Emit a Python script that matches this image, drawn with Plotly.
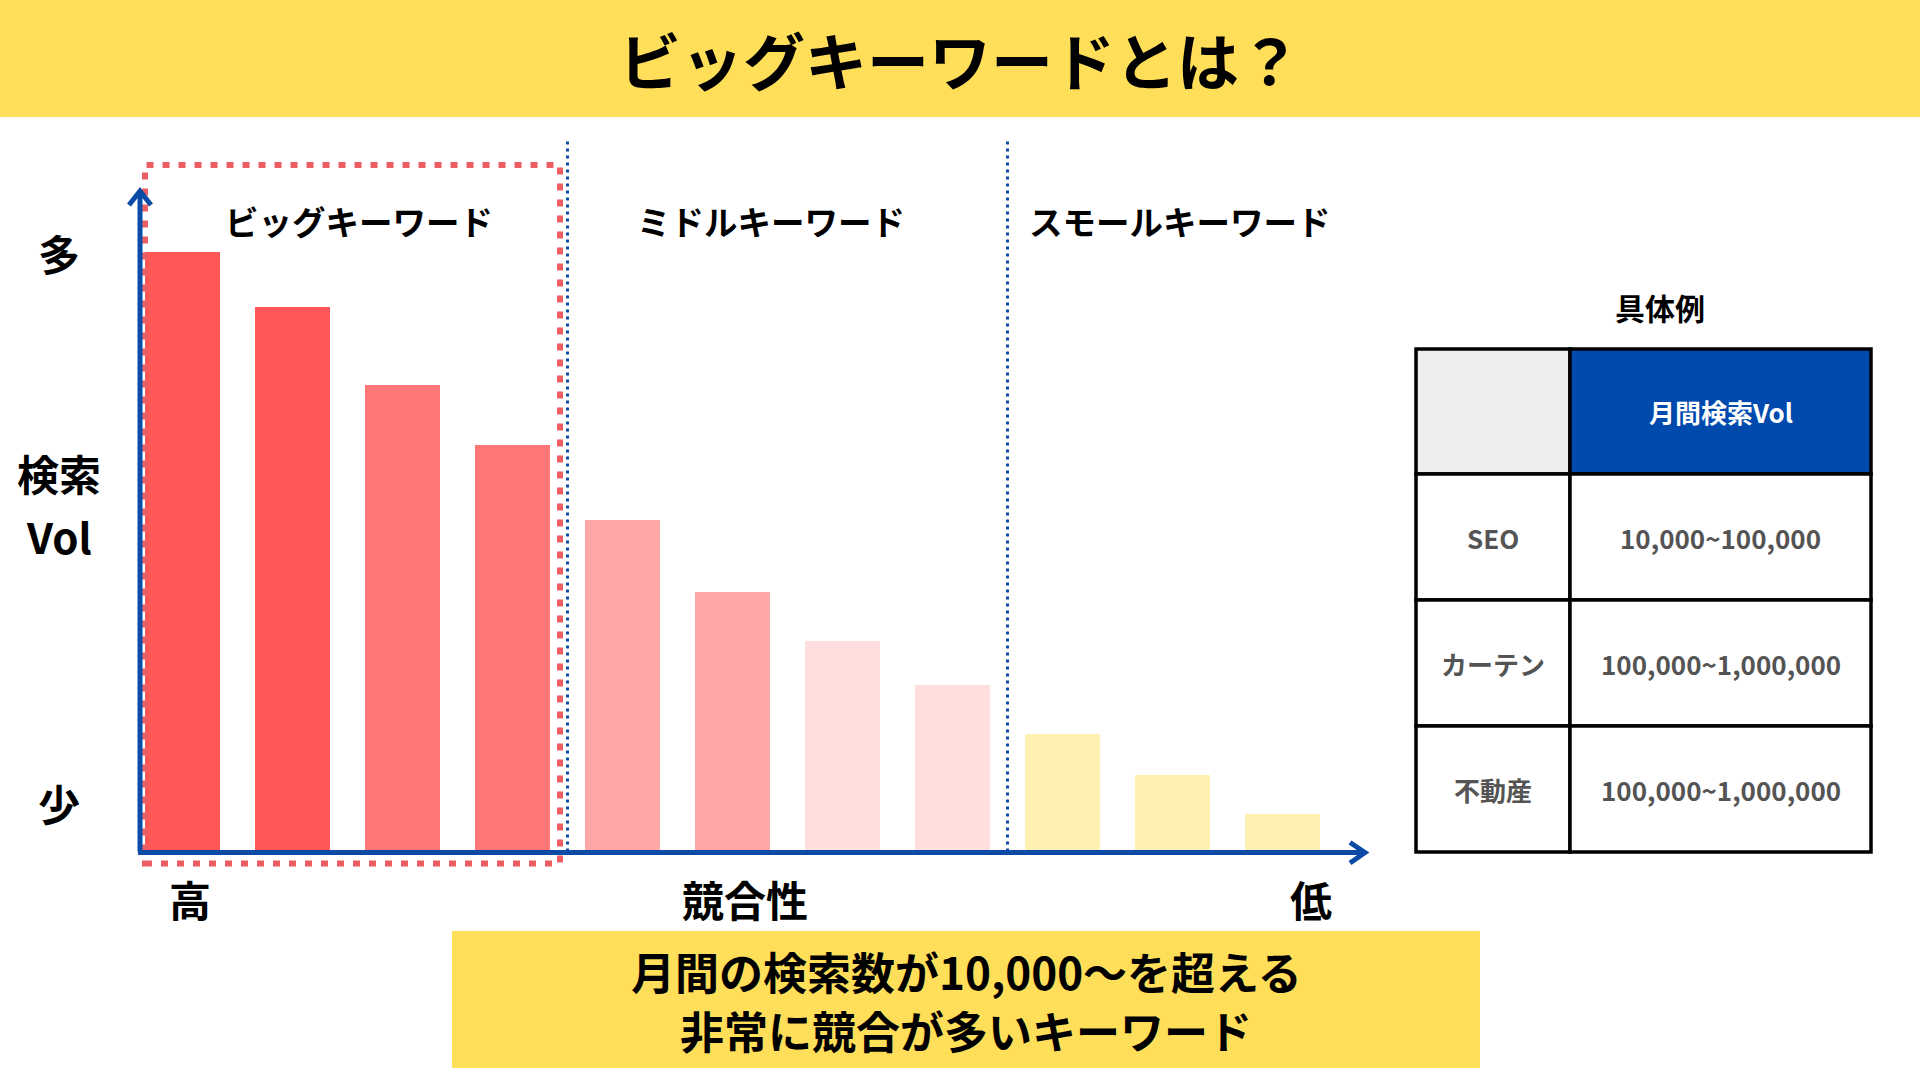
import plotly.graph_objects as go

W, H = 1920, 1080

# ---------------- data ----------------
search_volume = [600, 545, 467, 407, 332, 260, 211, 167, 118, 77, 38]
group_labels = ["ビッグキーワード", "ミドルキーワード", "スモールキーワード"]
group_sizes = [4, 4, 3]
y_labels_top = "多"
y_labels_mid = ["検索", "Vol"]
y_labels_bottom = "少"
x_labels = ["高", "競合性", "低"]
title_text = "ビッグキーワードとは？"
caption_lines = ["月間の検索数が10,000〜を超える", "非常に競合が多いキーワード"]
table_title = "具体例"
table_header = ["", "月間検索Vol"]
table_keywords = ["SEO", "カーテン", "不動産"]
table_volumes = ["10,000~100,000", "100,000~1,000,000", "100,000~1,000,000"]

# ---------------- styles ----------------
bar_colors = ["#FF5757", "#FF5757", "#FF7676", "#FF7676",
              "#FFA6A6", "#FFA6A6", "#FFDEDE", "#FFDEDE",
              "#FFF0B3", "#FFF0B3", "#FFF0B3"]
YELLOW = "#FFDE59"
BLUE = "#004AAD"
AXIS_BLUE = "#0B4AA5"
RED_DASH = "#EB5E63"
GRAY_TXT = "#545454"
FONT = "Noto Sans CJK JP"

# layout geometry (pixels)
AX_LEFT, AX_RIGHT = 140, 1366
AX_BOTTOM, AX_TOP = 851.5, 150
BAR_PITCH, FIRST_CENTER = 110, 182.5
GROUP_LABEL_X = [359, 771, 1180]


def px(x):
    return x / W


def py(y):
    return 1 - y / H


fig = go.Figure()
fig.add_trace(go.Bar(
    x=list(range(len(search_volume))),
    y=search_volume,
    marker=dict(color=bar_colors, line=dict(width=0)),
    width=0.68,
    hoverinfo="skip",
    showlegend=False,
))

shapes = []
annotations = []


def text(x, y, s, size, color="#000000", weight=700):
    annotations.append(dict(
        x=px(x), y=py(y), xref="paper", yref="paper", text=s, showarrow=False,
        xanchor="center", yanchor="middle",
        font=dict(family=FONT, size=size, color=color, weight=weight),
    ))


# title band
shapes.append(dict(type="rect", xref="paper", yref="paper", x0=0, x1=1,
                   y0=py(117), y1=1, fillcolor=YELLOW, line=dict(width=0), layer="below"))
text(960, 59, title_text, 62)

# group separators (blue dotted)
sep_index = 0
for size in group_sizes[:-1]:
    sep_index += size
    xs = FIRST_CENTER + (sep_index - 0.5) * BAR_PITCH
    shapes.append(dict(type="line", xref="paper", yref="paper",
                       x0=px(xs), x1=px(xs), y0=py(AX_BOTTOM), y1=py(140),
                       line=dict(color=AXIS_BLUE, width=3, dash="3px,4px")))

# red dashed highlight box
shapes.append(dict(type="rect", xref="paper", yref="paper",
                   x0=px(145), x1=px(560), y0=py(863.5), y1=py(165),
                   line=dict(color=RED_DASH, width=6, dash="7px,9px"),
                   fillcolor="rgba(0,0,0,0)"))

# axes
shapes.append(dict(type="line", xref="paper", yref="paper",
                   x0=px(AX_LEFT), x1=px(AX_LEFT), y0=py(AX_BOTTOM), y1=py(192),
                   line=dict(color=AXIS_BLUE, width=5)))
shapes.append(dict(type="line", xref="paper", yref="paper",
                   x0=px(AX_LEFT - 2), x1=px(AX_RIGHT - 1), y0=py(AX_BOTTOM + 1), y1=py(AX_BOTTOM + 1),
                   line=dict(color=AXIS_BLUE, width=5)))
# arrow heads
shapes.append(dict(type="path", xref="paper", yref="paper",
                   path=f"M {px(AX_LEFT-11)} {py(205)} L {px(AX_LEFT)} {py(191)} L {px(AX_LEFT+11)} {py(205)}",
                   line=dict(color=AXIS_BLUE, width=5)))
shapes.append(dict(type="path", xref="paper", yref="paper",
                   path=f"M {px(1350)} {py(842.5)} L {px(1365)} {py(852.5)} L {px(1350)} {py(863)}",
                   line=dict(color=AXIS_BLUE, width=5)))

# group labels
for lbl, cx in zip(group_labels, GROUP_LABEL_X):
    text(cx, 220, lbl, 33.5)

# y labels
text(59, 252, y_labels_top, 42)
text(59, 473, y_labels_mid[0], 42)
text(59, 535, y_labels_mid[1], 42)
text(59, 802, y_labels_bottom, 42)

# x labels
text(190, 898, x_labels[0], 42)
text(745, 898, x_labels[1], 42)
text(1311, 898, x_labels[2], 42)

# caption box
shapes.append(dict(type="rect", xref="paper", yref="paper",
                   x0=px(452), x1=px(1480), y0=py(1068), y1=py(931),
                   fillcolor=YELLOW, line=dict(width=0), layer="below"))
text(966, 971, caption_lines[0], 44)
text(966, 1030, caption_lines[1], 44)

# table
text(1660, 307, table_title, 30)
col_edges = [1416, 1570, 1871]
row_edges = [349, 474, 600, 726, 852]
rows = [table_header] + [[k, v] for k, v in zip(table_keywords, table_volumes)]
for r, row in enumerate(rows):
    for c, val in enumerate(row):
        if r == 0:
            fill = "#EEEEEE" if c == 0 else BLUE
            color = "#FFFFFF"
        else:
            fill = "#FFFFFF"
            color = GRAY_TXT
        shapes.append(dict(type="rect", xref="paper", yref="paper",
                           x0=px(col_edges[c]), x1=px(col_edges[c + 1]),
                           y0=py(row_edges[r + 1]), y1=py(row_edges[r]),
                           fillcolor=fill, line=dict(color="#000000", width=3.5),
                           layer="below"))
        if val:
            text((col_edges[c] + col_edges[c + 1]) / 2,
                 (row_edges[r] + row_edges[r + 1]) / 2, val, 26, color)

fig.update_layout(
    width=W, height=H,
    margin=dict(l=0, r=0, t=0, b=0),
    paper_bgcolor="#FFFFFF", plot_bgcolor="rgba(0,0,0,0)",
    xaxis=dict(domain=[px(AX_LEFT), px(AX_RIGHT)],
               range=[(AX_LEFT - FIRST_CENTER) / BAR_PITCH, (AX_RIGHT - FIRST_CENTER) / BAR_PITCH],
               visible=False, fixedrange=True),
    yaxis=dict(domain=[py(AX_BOTTOM), py(AX_TOP)], range=[0, AX_BOTTOM - AX_TOP],
               visible=False, fixedrange=True),
    shapes=shapes,
    annotations=annotations,
    bargap=0,
)

fig.write_html(
    "out.html",
    config={"displayModeBar": False},
    post_script="document.body.style.margin='0';document.body.style.padding='0';"
                "document.body.style.overflow='hidden';",
)
